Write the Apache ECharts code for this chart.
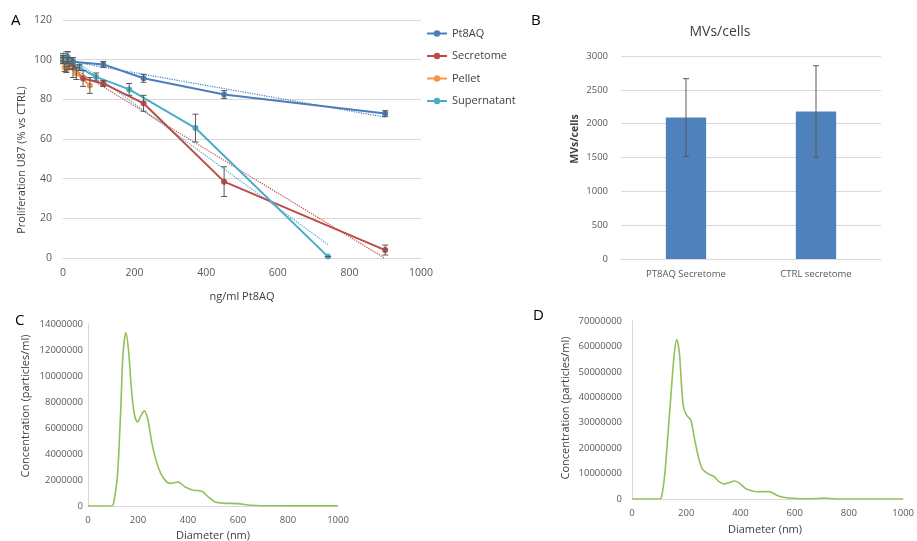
<!DOCTYPE html>
<html>
<head>
<meta charset="utf-8">
<script src="https://cdn.jsdelivr.net/npm/echarts@6/dist/echarts.min.js"></script>
<style>
html, body { margin: 0; padding: 0; background: #fff; }
#main { width: 917px; height: 541px; }
</style>
</head>
<body>
<div id="main"></div>
<script>
// panel A - proliferation
var pt8aqDose = [0, 14, 28, 112.5, 225, 450, 900];
var pt8aqProl = [100, 101, 99, 97.6, 90.6, 82.4, 72.8];
var pt8aqErr = [2, 3, 2, 1.5, 2, 2, 1.5];

var secDose = [0, 14, 28, 56, 112.5, 225, 450, 900];
var secProl = [100, 98, 96, 90.5, 88, 78, 38.5, 4];
var secErr = [2, 3, 5, 4, 1.5, 4, 7.5, 2.5];

var pelletDose = [0, 4.7, 9.4, 18.75, 37.5, 75];
var pelletProl = [101, 96, 95, 97, 93, 87];
var pelletErr = [2, 2, 1.5, 2, 3, 4];

var superDose = [0, 11.6, 23, 46, 92.5, 185, 370, 740];
var superProl = [100, 101.5, 99, 96, 91.3, 85, 65.5, 0.7];
var superErr = [1, 2.5, 2, 1.5, 2, 3, 7, 0];

// panel B - MVs/cells
var bCategories = ['PT8AQ Secretome', 'CTRL secretome'];
var bValues = [2090, 2180];
var bErr = [575, 675];

// panel C - size distribution
var cDiameter = [0, 80, 95, 102, 116, 123, 132, 140, 152, 162, 173, 185, 198, 213, 225, 240, 256, 276, 299, 329, 360, 389, 422, 453, 482, 509, 540, 600, 650, 700, 1000];
var cConc = [0, 0, 0.02e6, 0.18e6, 1.98e6, 4.0e6, 7.9e6, 11.7e6, 13.33e6, 12.0e6, 9.17e6, 7.1e6, 6.47e6, 6.99e6, 7.32e6, 6.6e6, 4.8e6, 3.27e6, 2.23e6, 1.73e6, 1.85e6, 1.46e6, 1.21e6, 1.16e6, 0.69e6, 0.3e6, 0.22e6, 0.18e6, 0.06e6, 0.02e6, 0.01e6];

// panel D - size distribution
var dDiameter = [0, 95, 107, 120, 132, 144, 156, 165, 175, 183, 190, 201, 217, 229, 242, 258, 278, 303, 321, 339, 357, 379, 400, 424, 461, 504, 540, 577, 638, 680, 711, 748, 1000];
var dConc = [0, 0, 0.27e6, 8.76e6, 24.5e6, 41.5e6, 57.2e6, 62.7e6, 57.2e6, 44.1e6, 36.2e6, 33e6, 31e6, 24.5e6, 17.9e6, 12.05e6, 10.1e6, 8.76e6, 6.8e6, 5.9e6, 6.4e6, 7.07e6, 5.9e6, 3.8e6, 2.87e6, 2.9e6, 1.2e6, 0.4e6, 0.1e6, 0.2e6, 0.4e6, 0.05e6, 0];

var colors = {
    pt8aq: '#4a7ebb',
    sec: '#be4b48',
    pellet: '#f79646',
    sup: '#4bacc6',
    bar: '#4f81bd',
    green: '#92c05a'
};
var labelColor = '#595959';
var gridColor = '#d9d9d9';

function zip(a, b) {
    return a.map(function (v, i) { return [v, b[i]]; });
}

function errData(x, y, e) {
    return x.map(function (v, i) { return [v, y[i] - e[i], y[i] + e[i]]; });
}

function plain(v) {
    return String(v);
}

// linear least squares trendline, clipped at y = 0
function trend(x, y) {
    var n = x.length, mx = 0, my = 0;
    for (var i = 0; i < n; i++) { mx += x[i]; my += y[i]; }
    mx /= n; my /= n;
    var sxy = 0, sxx = 0;
    for (var j = 0; j < n; j++) {
        sxy += (x[j] - mx) * (y[j] - my);
        sxx += (x[j] - mx) * (x[j] - mx);
    }
    var b = sxy / sxx, a = my - b * mx;
    var x0 = Math.min.apply(null, x), x1 = Math.max.apply(null, x);
    if (a + b * x1 < 0) x1 = -a / b;
    return [[x0, a + b * x0], [x1, a + b * x1]];
}

function renderErr(params, api) {
    var x = api.value(0);
    var top = api.coord([x, api.value(2)]);
    var bot = api.coord([x, api.value(1)]);
    var w = 3;
    var st = { stroke: '#595959', lineWidth: 1 };
    return {
        type: 'group',
        children: [
            { type: 'line', shape: { x1: top[0], y1: top[1], x2: bot[0], y2: bot[1] }, style: st },
            { type: 'line', shape: { x1: top[0] - w, y1: top[1], x2: top[0] + w, y2: top[1] }, style: st },
            { type: 'line', shape: { x1: bot[0] - w, y1: bot[1], x2: bot[0] + w, y2: bot[1] }, style: st }
        ]
    };
}

function lineSeries(name, x, y, color) {
    return {
        name: name,
        type: 'line',
        xAxisIndex: 0,
        yAxisIndex: 0,
        data: zip(x, y),
        symbol: 'circle',
        symbolSize: 6,
        color: color,
        lineStyle: { width: 2 },
        z: 3
    };
}

function trendSeries(x, y, color) {
    return {
        type: 'line',
        xAxisIndex: 0,
        yAxisIndex: 0,
        data: trend(x, y),
        symbol: 'none',
        color: color,
        lineStyle: { width: 1.2, type: 'dotted' },
        z: 2
    };
}

function errSeries(x, y, e, xi, yi) {
    return {
        type: 'custom',
        xAxisIndex: xi,
        yAxisIndex: yi,
        renderItem: renderErr,
        encode: { x: 0, y: [1, 2] },
        data: errData(x, y, e),
        z: 4
    };
}

function sizeSeries(idx, x, y) {
    return {
        type: 'line',
        xAxisIndex: idx,
        yAxisIndex: idx,
        data: zip(x, y),
        smooth: 0.3,
        showSymbol: false,
        color: colors.green,
        lineStyle: { width: 1.6 }
    };
}

var chart = echarts.init(document.getElementById('main'));

var axisText = { color: labelColor, fontSize: 10.5 };
var titleText = { fill: '#404040', fontSize: 11, fontFamily: 'Open Sans' };

function vText(x, y, text, extra) {
    return { type: 'text', x: x, y: y, rotation: Math.PI / 2, style: Object.assign({ text: text, align: 'center', verticalAlign: 'middle' }, titleText, extra || {}) };
}
function hText(x, y, text, extra) {
    return { type: 'text', x: x, y: y, style: Object.assign({ text: text, align: 'center', verticalAlign: 'middle' }, titleText, extra || {}) };
}

var option = {
    backgroundColor: '#fff',
    animation: false,
    textStyle: { fontFamily: 'Open Sans' },
    grid: [
        { left: 63, top: 20, width: 358, height: 238 },
        { left: 621, top: 56, width: 260, height: 203 },
        { left: 88, top: 324, width: 250, height: 182 },
        { left: 632, top: 321, width: 274, height: 178 }
    ],
    xAxis: [
        {
            gridIndex: 0, type: 'value', min: 0, max: 1000, interval: 200,
            axisLine: { lineStyle: { color: gridColor } },
            axisTick: { show: false },
            splitLine: { show: false },
            axisLabel: Object.assign({ margin: 10, formatter: plain }, axisText)
        },
        {
            gridIndex: 1, type: 'category', data: bCategories,
            axisLine: { lineStyle: { color: gridColor } },
            axisTick: { show: false },
            axisLabel: { color: labelColor, fontSize: 9.5, margin: 10 }
        },
        {
            gridIndex: 2, type: 'value', min: 0, max: 1000, interval: 200,
            axisLine: { lineStyle: { color: gridColor } },
            axisTick: { show: false },
            splitLine: { show: false },
            axisLabel: { color: labelColor, fontSize: 9.5, margin: 9, formatter: plain }
        },
        {
            gridIndex: 3, type: 'value', min: 0, max: 1000, interval: 200,
            axisLine: { lineStyle: { color: gridColor } },
            axisTick: { show: false },
            splitLine: { show: false },
            axisLabel: { color: labelColor, fontSize: 9.5, margin: 9, formatter: plain }
        }
    ],
    yAxis: [
        {
            gridIndex: 0, type: 'value', min: 0, max: 120, interval: 20,
            axisLine: { show: false },
            axisTick: { show: false },
            splitLine: { lineStyle: { color: gridColor } },
            axisLabel: Object.assign({ margin: 11 }, axisText)
        },
        {
            gridIndex: 1, type: 'value', min: 0, max: 3000, interval: 500,
            axisLine: { show: false },
            axisTick: { show: false },
            splitLine: { lineStyle: { color: gridColor } },
            axisLabel: { color: labelColor, fontSize: 9.5, margin: 13, formatter: plain }
        },
        {
            gridIndex: 2, type: 'value', min: 0, max: 14000000, interval: 2000000,
            axisLine: { show: true, lineStyle: { color: gridColor } },
            axisTick: { show: false },
            splitLine: { show: false },
            axisLabel: { color: labelColor, fontSize: 9.5, margin: 5, formatter: plain }
        },
        {
            gridIndex: 3, type: 'value', min: 0, max: 70000000, interval: 10000000,
            axisLine: { show: true, lineStyle: { color: gridColor } },
            axisTick: { show: false },
            splitLine: { show: false },
            axisLabel: { color: labelColor, fontSize: 9.5, margin: 10, formatter: plain }
        }
    ],
    legend: {
        orient: 'vertical',
        left: 426,
        top: 28,
        padding: 0,
        itemWidth: 20,
        itemHeight: 8,
        itemGap: 11.5,
        data: ['Pt8AQ', 'Secretome', 'Pellet', 'Supernatant'],
        textStyle: { color: '#404040', fontSize: 11 }
    },
    graphic: [
        { type: 'text', left: 11, top: 13, style: { text: 'A', fontSize: 15, fill: '#000', fontFamily: 'Open Sans' } },
        { type: 'text', left: 531, top: 13, style: { text: 'B', fontSize: 15, fill: '#000', fontFamily: 'Open Sans' } },
        { type: 'text', left: 15, top: 313, style: { text: 'C', fontSize: 15, fill: '#000', fontFamily: 'Open Sans' } },
        { type: 'text', left: 533, top: 308, style: { text: 'D', fontSize: 15, fill: '#000', fontFamily: 'Open Sans' } },
        hText(720, 32, 'MVs/cells', { fontSize: 14 }),
        vText(22, 160, 'Proliferation U87 (% vs CTRL)'),
        hText(242, 297, 'ng/ml Pt8AQ'),
        vText(575, 139, 'MVs/cells', { fontWeight: 'bold', fontSize: 10.5 }),
        vText(26, 406, 'Concentration (particles/ml)'),
        hText(213, 536, 'Diameter (nm)'),
        vText(566, 408, 'Concentration (particles/ml)'),
        hText(765, 530, 'Diameter (nm)')
    ],
    series: [
        trendSeries(pt8aqDose, pt8aqProl, colors.pt8aq),
        trendSeries(secDose, secProl, colors.sec),
        trendSeries(superDose, superProl, colors.sup),
        lineSeries('Pt8AQ', pt8aqDose, pt8aqProl, colors.pt8aq),
        lineSeries('Secretome', secDose, secProl, colors.sec),
        lineSeries('Pellet', pelletDose, pelletProl, colors.pellet),
        lineSeries('Supernatant', superDose, superProl, colors.sup),
        errSeries(pt8aqDose, pt8aqProl, pt8aqErr, 0, 0),
        errSeries(secDose, secProl, secErr, 0, 0),
        errSeries(pelletDose, pelletProl, pelletErr, 0, 0),
        errSeries(superDose, superProl, superErr, 0, 0),
        {
            type: 'bar',
            xAxisIndex: 1,
            yAxisIndex: 1,
            data: bValues,
            barWidth: '31%',
            color: colors.bar
        },
        errSeries([0, 1], bValues, bErr, 1, 1),
        sizeSeries(2, cDiameter, cConc),
        sizeSeries(3, dDiameter, dConc)
    ]
};

chart.setOption(option);
</script>
</body>
</html>
